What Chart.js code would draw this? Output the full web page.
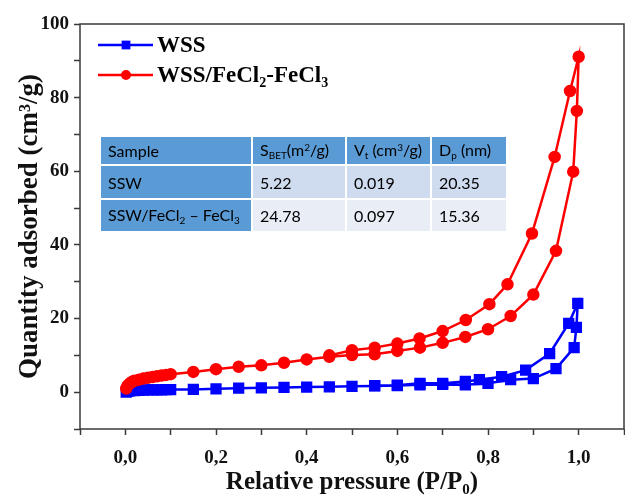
<!DOCTYPE html>
<html>
<head>
<meta charset="utf-8">
<script src="https://cdn.jsdelivr.net/npm/chart.js@4.4.1/dist/chart.umd.min.js"></script>
<style>
  html, body { margin:0; padding:0; background:#fff; }
  #wrap { position:relative; width:625px; height:498px; }
  #c { position:absolute; left:0; top:0; }
  table.bet {
    position:absolute; left:101px; top:137px;
    border-collapse:separate; border-spacing:2px 2px; margin:-2px;
    font-family: Lato, "Open Sans", sans-serif; font-size:16px; color:#000;
  }
  table.bet td { padding:0 0 0 7px; white-space:nowrap; }
  table.bet tr.h td { background:#5b9bd5; height:27px; }
  table.bet tr.r1 td { background:#cfdbee; height:32px; }
  table.bet tr.r2 td { background:#e8edf6; height:31px; }
  table.bet td.s { background:#5b9bd5 !important; }
  table.bet sub { font-size:10px; vertical-align:-3px; }
  table.bet sup { font-size:10px; vertical-align:5px; }
</style>
</head>
<body>
<div id="wrap">
  <canvas id="c" width="625" height="498"></canvas>
  <table class="bet">
    <tr class="h">
      <td style="width:143px">Sample</td>
      <td style="width:85px">S<sub>BET</sub>(m<sup>2</sup>/g)</td>
      <td style="width:76px">V<sub>t</sub> (cm<sup>3</sup>/g)</td>
      <td style="width:67px">D<sub>p</sub> (nm)</td>
    </tr>
    <tr class="r1">
      <td class="s">SSW</td><td>5.22</td><td>0.019</td><td>20.35</td>
    </tr>
    <tr class="r2">
      <td class="s">SSW/FeCl<sub>2</sub> – FeCl<sub>3</sub></td><td>24.78</td><td>0.097</td><td>15.36</td>
    </tr>
  </table>
</div>
<script>
// ---- data (adsorption branch, then desorption branch) ----
const wssP = [0.002,0.005,0.01,0.02,0.03,0.04,0.05,0.06,0.07,0.08,0.09,0.10,0.15,0.20,0.25,0.30,0.35,0.40,0.45,0.50,0.55,0.60,0.65,0.70,0.75,0.80,0.85,0.90,0.95,0.99,0.995,0.998,
              0.978,0.936,0.883,0.830,0.781,0.75,0.70,0.65,0.60,0.55];
const wssQ = [0.0,0.2,0.35,0.45,0.5,0.55,0.6,0.6,0.65,0.65,0.7,0.7,0.75,0.9,1.1,1.2,1.3,1.4,1.45,1.6,1.7,1.8,2.0,2.1,2.0,2.4,3.4,3.7,6.4,12.1,17.6,24.1,
              18.7,10.5,6.0,4.2,3.4,2.9,2.4,2.4,1.9,1.8];

const hybP = [0.002,0.005,0.01,0.015,0.02,0.03,0.04,0.05,0.06,0.07,0.08,0.09,0.10,0.15,0.20,0.25,0.30,0.35,0.40,0.45,0.50,0.55,0.60,0.65,0.70,0.75,0.80,0.85,0.90,0.95,0.988,0.996,1.0,
              0.981,0.947,0.897,0.843,0.803,0.751,0.70,0.649,0.60,0.55,0.50,0.45];
const hybQ = [1.0,1.8,2.4,2.8,3.1,3.4,3.7,3.9,4.1,4.3,4.5,4.7,4.9,5.5,6.25,6.9,7.3,8.0,8.9,9.6,10.1,10.3,11.2,12.1,13.4,15.0,17.1,20.7,26.5,38.4,59.9,76.4,91.1,
              81.8,63.9,43.1,29.3,23.9,19.6,16.6,14.6,13.2,12.1,11.4,10.0];

// legend labels as [text, isSubscript] pieces
const wssLabel = [['WSS',0]];
const hybLabel = [['WSS/FeCl',0],['2',1],['-FeCl',0],['3',1]];

const xTitle = 'Relative pressure (P/P\u2080)';
const yTitle = 'Quantity adsorbed (cm\u00b3/g)';

const pts = (xs, ys) => xs.map((x,i)=>({x, y: ys[i]}));
const SERIF = '"Liberation Serif", "Times New Roman", serif';
const AXC = '#3a3a3a';

// frame around the plot area
const framePlugin = {
  id:'frame',
  beforeDatasetsDraw(chart){
    const {ctx, chartArea:a} = chart;
    ctx.save();
    ctx.strokeStyle = AXC; ctx.lineWidth = 1.5;
    ctx.strokeRect(a.left, a.top, a.right - a.left, a.bottom - a.top);
    ctx.restore();
  }
};

function drawRich(ctx, parts, x, y, size){
  parts.forEach(([t, sub])=>{
    ctx.font = `bold ${sub ? Math.round(size*0.62) : size}px ${SERIF}`;
    ctx.fillText(t, x, sub ? y + size*0.3 : y);
    x += ctx.measureText(t).width;
  });
}

// legend drawn inside the plot, top-left
const legendPlugin = {
  id:'innerLegend',
  afterDraw(chart){
    const {ctx} = chart;
    const items = [[0, wssLabel, 45],[1, hybLabel, 75]];
    ctx.save();
    items.forEach(([di, label, y])=>{
      const ds = chart.data.datasets[di];
      ctx.strokeStyle = ds.borderColor; ctx.lineWidth = 2.5;
      ctx.beginPath(); ctx.moveTo(98, y); ctx.lineTo(153, y); ctx.stroke();
      ctx.fillStyle = ds.backgroundColor;
      Chart.helpers.drawPoint(ctx, {pointStyle: ds.pointStyle, radius: ds.pointRadius, borderWidth: 0}, 126, y);
      ctx.fillStyle = '#000'; ctx.textBaseline = 'middle';
      drawRich(ctx, label, 157, y + 1, 23);
    });
    ctx.restore();
  }
};

const tickFont = {family: SERIF, size: 19, weight: 'bold'};

new Chart(document.getElementById('c'), {
  type:'scatter',
  data:{
    datasets:[
      {label:'WSS', data: pts(wssP, wssQ), showLine:true,
       borderColor:'#0000ff', backgroundColor:'#0000ff', borderWidth:2.5,
       pointStyle:'rect', pointRadius:6.2, pointHoverRadius:6.2, order:1},
      {label:'WSS/FeCl2-FeCl3', data: pts(hybP, hybQ), showLine:true,
       borderColor:'#ff0000', backgroundColor:'#ff0000', borderWidth:2.5,
       pointStyle:'circle', pointRadius:5, pointHoverRadius:5, order:0}
    ]
  },
  options:{
    responsive:false, animation:false,
    layout:{autoPadding:false, padding:{top:24, right:1, left:0, bottom:0}},
    plugins:{legend:{display:false}, tooltip:{enabled:false}},
    scales:{
      x:{
        type:'linear', min:-0.1, max:1.1,
        afterFit: s => { s.height = 69; s.paddingLeft = 0; s.paddingRight = 0; },
        border:{display:false},
        grid:{drawOnChartArea:false, drawTicks:true, tickLength:6, tickColor:AXC, tickWidth:1.5},
        ticks:{
          stepSize:0.1, color:'#111', font:tickFont, padding:12, maxRotation:0, autoSkip:false,
          callback: v => {
            const k = Math.round(v*10);
            return (k >= 0 && k % 2 === 0 && k <= 10) ? (k/10).toFixed(1).replace('.', ',') : '';
          }
        },
        title:{display:true, text:xTitle, color:'#111',
               font:{family:SERIF, size:25, weight:'bold'}, padding:{top:0, bottom:0}}
      },
      y:{
        type:'linear', min:-10, max:100,
        afterFit: s => { s.width = 80; },
        border:{display:false},
        grid:{drawOnChartArea:false, drawTicks:true, tickLength:6, tickColor:AXC, tickWidth:1.5},
        ticks:{
          stepSize:10, color:'#111', font:tickFont, padding:5, autoSkip:false,
          callback: v => (v >= 0 && Math.round(v) % 20 === 0) ? String(v) : ''
        },
        title:{display:true, text:yTitle, color:'#111',
               font:{family:SERIF, size:27, weight:'bold'}, padding:{top:14, bottom:0}}
      }
    }
  },
  plugins:[framePlugin, legendPlugin]
});
</script>
</body>
</html>
